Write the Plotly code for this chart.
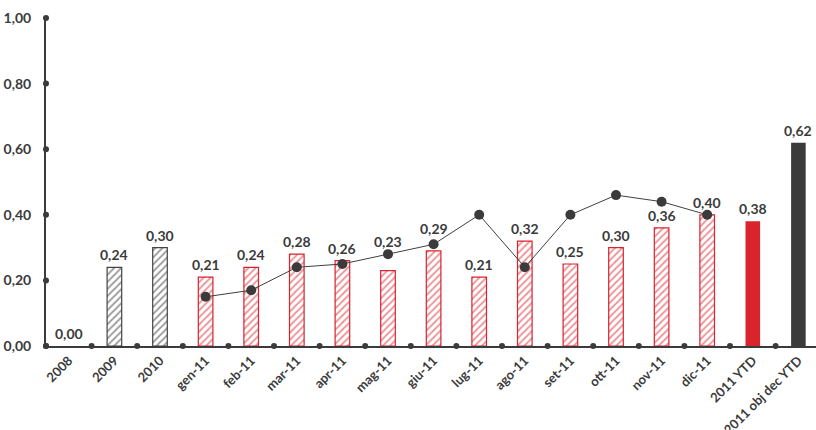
import plotly.graph_objects as go

# Categories along the x axis
categories = ["2008", "2009", "2010", "gen-11", "feb-11", "mar-11", "apr-11", "mag-11",
              "giu-11", "lug-11", "ago-11", "set-11", "ott-11", "nov-11", "dic-11",
              "2011 YTD", "2011 obj dec YTD"]

# Bar values
bar_values = [0.00, 0.24, 0.30, 0.21, 0.24, 0.28, 0.26, 0.23, 0.29, 0.21, 0.32, 0.25,
              0.30, 0.36, 0.40, 0.38, 0.62]

# Monthly line values (gen-11 .. dic-11)
line_months = ["gen-11", "feb-11", "mar-11", "apr-11", "mag-11", "giu-11", "lug-11",
               "ago-11", "set-11", "ott-11", "nov-11", "dic-11"]
line_values = [0.15, 0.17, 0.24, 0.25, 0.28, 0.31, 0.40, 0.24, 0.40, 0.46, 0.44, 0.40]

y_ticks = [0.0, 0.2, 0.4, 0.6, 0.8, 1.0]

DARK = "#3b3b3b"
RED = "#d9232d"
FONT = "Lato"

x_idx = list(range(len(categories)))
bar_w = 0.32

fig = go.Figure()

# Yearly hatched bars (grey)
grey_idx = [1, 2]
fig.add_trace(go.Bar(
    x=[x_idx[i] for i in grey_idx], y=[bar_values[i] for i in grey_idx], width=bar_w,
    marker=dict(color="white", line=dict(color="#444444", width=1.2),
                pattern=dict(shape="/", fgcolor="#333333", bgcolor="white", size=5, solidity=0.35)),
    hoverinfo="skip"))

# Monthly hatched bars (red)
red_idx = list(range(3, 15))
fig.add_trace(go.Bar(
    x=[x_idx[i] for i in red_idx], y=[bar_values[i] for i in red_idx], width=bar_w,
    marker=dict(color="white", line=dict(color=RED, width=1.2),
                pattern=dict(shape="/", fgcolor=RED, bgcolor="white", size=5, solidity=0.35)),
    hoverinfo="skip"))

# Solid bars: YTD and objective
fig.add_trace(go.Bar(x=[x_idx[15]], y=[bar_values[15]], width=bar_w,
                     marker=dict(color=RED, line=dict(width=0)), hoverinfo="skip"))
fig.add_trace(go.Bar(x=[x_idx[16]], y=[bar_values[16]], width=bar_w,
                     marker=dict(color=DARK, line=dict(width=0)), hoverinfo="skip"))

# Monthly line with markers
fig.add_trace(go.Scatter(
    x=[categories.index(m) for m in line_months], y=line_values, mode="lines+markers",
    line=dict(color="#404040", width=1),
    marker=dict(color=DARK, size=10), hoverinfo="skip"))

# Dot tick marks on the axes
fig.add_trace(go.Scatter(
    x=[i + 0.5 for i in range(len(categories) - 1)] + [-0.5], y=[0] * len(categories),
    mode="markers", marker=dict(color=DARK, size=6), cliponaxis=False, hoverinfo="skip"))
fig.add_trace(go.Scatter(
    x=[-0.5] * len(y_ticks), y=y_ticks, mode="markers",
    marker=dict(color=DARK, size=6), cliponaxis=False, hoverinfo="skip"))

# Value labels above bars (some lifted clear of the line)
label_shift = {7: 19, 8: 12}
for i, v in enumerate(bar_values):
    fig.add_annotation(x=x_idx[i], y=v, text=f"{v:.2f}".replace(".", ","),
                       showarrow=False, yanchor="bottom", yshift=label_shift.get(i, 2),
                       font=dict(family=FONT, size=14, color=DARK, weight="bold"))

fig.update_layout(
    width=816, height=430,
    margin=dict(l=46, r=0, t=18, b=84, autoexpand=False),
    plot_bgcolor="white", paper_bgcolor="white",
    showlegend=False, barmode="overlay",
    separators=",.",
    font=dict(family=FONT, color=DARK),
)
fig.update_xaxes(
    range=[-0.5, 16.386], tickmode="array", tickvals=x_idx, ticktext=categories,
    tickangle=-45, tickfont=dict(family=FONT, size=13, color=DARK, weight="bold"),
    showline=True, linecolor=DARK, linewidth=2, showgrid=False, zeroline=False,
    ticks="", ticklen=0, automargin=False)
fig.update_yaxes(
    range=[0, 1], tickvals=y_ticks, tickformat=".2f",
    tickfont=dict(family=FONT, size=14, color=DARK, weight="bold"),
    showline=True, linecolor=DARK, linewidth=2, showgrid=False, zeroline=False,
    ticks="", ticklabelstandoff=10, automargin=False)

fig.write_html("out.html")
